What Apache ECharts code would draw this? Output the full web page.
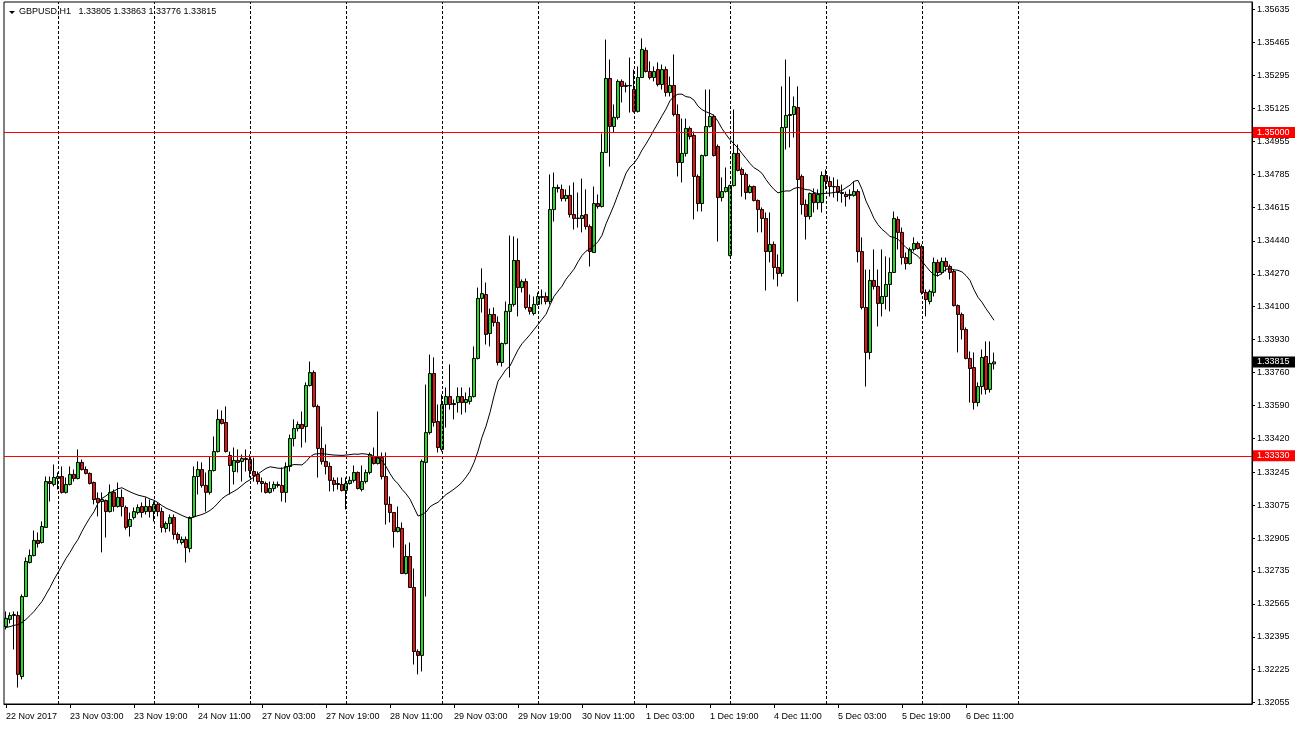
<!DOCTYPE html>
<html>
<head>
<meta charset="utf-8">
<script src="https://cdn.jsdelivr.net/npm/echarts/dist/echarts.min.js"></script>
<style>
html,body{margin:0;padding:0;background:#fff;}
#chart{width:1295px;height:729px;}
</style>
</head>
<body>
<div id="chart"></div>
<script>
// ---------- data ----------
const headerText = 'GBPUSD,H1   1.33805 1.33863 1.33776 1.33815';

const tickLabels = ['22 Nov 2017','23 Nov 03:00','23 Nov 19:00','24 Nov 11:00','27 Nov 03:00','27 Nov 19:00',
  '28 Nov 11:00','29 Nov 03:00','29 Nov 19:00','30 Nov 11:00','1 Dec 03:00','1 Dec 19:00','4 Dec 11:00',
  '5 Dec 03:00','5 Dec 19:00','6 Dec 11:00'];
const tickLabelBars = [0,16,32,48,64,80,96,112,128,144,160,176,192,208,224,240];
const dayStartBars = [13,37,61,85,109,133,157,181,205,229,253];
const slotCount = 312;

const priceTicks = [1.35635,1.35465,1.35295,1.35125,1.34955,1.34785,1.34615,1.34440,1.34270,1.34100,1.33930,
  1.33760,1.33590,1.33420,1.33245,1.33075,1.32905,1.32735,1.32565,1.32395,1.32225,1.32055];
const priceMin = 1.3204804;
const priceMax = 1.3567407;
const levelLines = [1.35000, 1.33330];
const lastPrice = 1.33815;

const maPeriod = 20;
// moving average as drawn for the first bars (its earlier history is outside the picture)
const maHead = [1.32443,1.32448,1.32454,1.32459,1.32469,1.32485,1.32505,1.32526,1.32552,1.32578,
  1.32614,1.32650,1.32691,1.32727,1.32763,1.32800,1.32831,1.32867,1.32898];

const open = [
1.32448,1.32485,1.32505,1.32505,1.32190,1.32603,1.32779,1.32815,1.32893,1.32882,
1.32960,1.33197,1.33182,1.33213,1.33223,1.33141,1.33182,1.33234,1.33213,1.33296,
1.33259,1.33239,1.33192,1.33110,1.33094,1.33099,1.33042,1.33141,1.33068,1.33115,
1.33063,1.32965,1.33011,1.33037,1.33068,1.33042,1.33068,1.33042,1.33079,1.33042,
1.32955,1.32980,1.33011,1.32924,1.32882,1.32898,1.32851,1.33017,1.33223,1.33259,
1.33177,1.33141,1.33254,1.33352,1.33518,1.33502,1.33332,1.33249,1.33306,1.33301,
1.33316,1.33311,1.33249,1.33234,1.33197,1.33187,1.33141,1.33161,1.33182,1.33177,
1.33141,1.33275,1.33419,1.33471,1.33492,1.33481,1.33693,1.33760,1.33585,1.33368,
1.33301,1.33275,1.33203,1.33187,1.33182,1.33151,1.33187,1.33203,1.33244,1.33156,
1.33197,1.33244,1.33326,1.33290,1.33321,1.33223,1.33079,1.33037,1.32939,1.32955,
1.32722,1.32810,1.32650,1.32319,1.32299,1.33296,1.33450,1.33755,1.33507,1.33363,
1.33595,1.33636,1.33600,1.33605,1.33636,1.33605,1.33611,1.33636,1.33833,1.34143,
1.34163,1.33962,1.34060,1.34019,1.33812,1.33910,1.34076,1.34112,1.34339,1.34199,
1.34230,1.34096,1.34065,1.34112,1.34148,1.34153,1.34127,1.34602,1.34716,1.34706,
1.34659,1.34675,1.34576,1.34558,1.34556,1.34576,1.34514,1.34380,1.34633,1.34618,
1.34897,1.35279,1.35031,1.35078,1.35264,1.35243,1.35243,1.35222,1.35109,1.35284,
1.35424,1.35315,1.35284,1.35325,1.35248,1.35325,1.35207,1.35243,1.35093,1.34845,
1.34892,1.35021,1.34985,1.34773,1.34633,1.34881,1.35031,1.35083,1.34928,1.34664,
1.34695,1.34365,1.34726,1.34892,1.34809,1.34783,1.34690,1.34721,1.34649,1.34602,
1.34556,1.34385,1.34422,1.34303,1.34272,1.35026,1.35088,1.35093,1.35129,1.34773,
1.34628,1.34566,1.34685,1.34638,1.34638,1.34778,1.34747,1.34721,1.34721,1.34690,
1.34680,1.34675,1.34675,1.34695,1.34385,1.34096,1.33864,1.34236,1.34205,1.34117,
1.34153,1.34215,1.34277,1.34551,1.34484,1.34354,1.34323,1.34396,1.34427,1.34411,
1.34174,1.34127,1.34174,1.34329,1.34277,1.34334,1.34308,1.34282,1.34106,1.34060,
1.33982,1.33833,1.33786,1.33605,1.33688,1.33843,1.33673,1.33805];

const close = [
1.32490,1.32505,1.32510,1.32201,1.32603,1.32784,1.32815,1.32893,1.32877,1.32965,
1.33197,1.33187,1.33218,1.33223,1.33141,1.33182,1.33234,1.33213,1.33296,1.33259,
1.33239,1.33187,1.33104,1.33089,1.33104,1.33042,1.33141,1.33068,1.33115,1.33068,
1.32960,1.33001,1.33042,1.33063,1.33037,1.33068,1.33042,1.33079,1.33042,1.32960,
1.32980,1.33011,1.32924,1.32898,1.32898,1.32856,1.33011,1.33223,1.33259,1.33177,
1.33141,1.33254,1.33352,1.33518,1.33497,1.33352,1.33280,1.33306,1.33296,1.33316,
1.33311,1.33254,1.33228,1.33197,1.33187,1.33141,1.33161,1.33182,1.33177,1.33141,
1.33275,1.33419,1.33471,1.33492,1.33471,1.33693,1.33760,1.33585,1.33368,1.33301,
1.33275,1.33203,1.33182,1.33182,1.33151,1.33187,1.33203,1.33244,1.33161,1.33197,
1.33244,1.33337,1.33290,1.33321,1.33223,1.33079,1.33037,1.32939,1.32960,1.32722,
1.32810,1.32650,1.32319,1.32299,1.33301,1.33450,1.33755,1.33502,1.33373,1.33595,
1.33636,1.33595,1.33595,1.33636,1.33605,1.33621,1.33636,1.33833,1.34143,1.34168,
1.33957,1.34060,1.34019,1.33812,1.33910,1.34076,1.34112,1.34339,1.34199,1.34230,
1.34096,1.34076,1.34112,1.34153,1.34153,1.34127,1.34602,1.34716,1.34711,1.34659,
1.34675,1.34576,1.34556,1.34556,1.34571,1.34514,1.34385,1.34633,1.34618,1.34897,
1.35279,1.35031,1.35078,1.35264,1.35238,1.35238,1.35241,1.35109,1.35284,1.35429,
1.35315,1.35284,1.35315,1.35248,1.35325,1.35207,1.35243,1.35093,1.34845,1.34892,
1.35021,1.34979,1.34773,1.34633,1.34881,1.35031,1.35083,1.34881,1.34664,1.34695,
1.34716,1.34726,1.34892,1.34804,1.34783,1.34690,1.34721,1.34649,1.34602,1.34556,
1.34385,1.34422,1.34303,1.34272,1.35026,1.35088,1.35093,1.35134,1.34757,1.34628,
1.34566,1.34685,1.34638,1.34680,1.34778,1.34747,1.34721,1.34719,1.34690,1.34685,
1.34669,1.34680,1.34695,1.34385,1.34096,1.33864,1.34236,1.34205,1.34117,1.34153,
1.34215,1.34277,1.34556,1.34484,1.34354,1.34323,1.34396,1.34427,1.34401,1.34174,
1.34137,1.34179,1.34329,1.34277,1.34334,1.34308,1.34277,1.34106,1.34060,1.33982,
1.33833,1.33781,1.33605,1.33688,1.33838,1.33673,1.33807,1.33815];

const low = [
1.32433,1.32464,1.32330,1.32133,1.32175,1.32603,1.32774,1.32810,1.32856,1.32877,
1.32960,1.33094,1.33172,1.33156,1.33135,1.33135,1.33177,1.33197,1.33208,1.33254,
1.33234,1.33182,1.33079,1.33017,1.32831,1.32908,1.33037,1.33042,1.33063,1.33017,
1.32949,1.32913,1.33001,1.33027,1.33011,1.33027,1.33011,1.32991,1.33017,1.32934,
1.32934,1.32939,1.32898,1.32877,1.32872,1.32779,1.32831,1.33011,1.33130,1.33166,
1.33042,1.33130,1.33249,1.33347,1.33492,1.33347,1.33130,1.33182,1.33244,1.33197,
1.33249,1.33218,1.33197,1.33182,1.33141,1.33135,1.33135,1.33146,1.33166,1.33094,
1.33089,1.33249,1.33378,1.33456,1.33373,1.33399,1.33688,1.33580,1.33218,1.33285,
1.33234,1.33146,1.33146,1.33156,1.33146,1.33053,1.33182,1.33192,1.33156,1.33146,
1.33187,1.33234,1.33285,1.33285,1.33208,1.32975,1.32986,1.32856,1.32934,1.32722,
1.32717,1.32650,1.32252,1.32201,1.32216,1.32603,1.33440,1.33481,1.33347,1.33352,
1.33476,1.33569,1.33518,1.33554,1.33543,1.33554,1.33595,1.33631,1.33828,1.34070,
1.33905,1.33895,1.33998,1.33797,1.33791,1.33905,1.33735,1.34101,1.34050,1.34174,
1.34086,1.34060,1.34055,1.34106,1.34112,1.34112,1.34112,1.34540,1.34690,1.34644,
1.34644,1.34561,1.34499,1.34509,1.34484,1.34499,1.34308,1.34380,1.34607,1.34613,
1.34897,1.34824,1.35000,1.35067,1.35155,1.35207,1.35103,1.35103,1.35103,1.35284,
1.35310,1.35274,1.35264,1.35238,1.35222,1.35186,1.35186,1.35083,1.34773,1.34742,
1.34876,1.34964,1.34551,1.34592,1.34592,1.34876,1.35026,1.34876,1.34437,1.34644,
1.34690,1.34360,1.34721,1.34799,1.34669,1.34654,1.34685,1.34644,1.34484,1.34484,
1.34184,1.34329,1.34241,1.34205,1.34256,1.34912,1.34923,1.34974,1.34127,1.34576,
1.34447,1.34551,1.34587,1.34602,1.34587,1.34706,1.34669,1.34664,1.34644,1.34638,
1.34618,1.34654,1.34669,1.34329,1.34086,1.33688,1.33828,1.34189,1.33998,1.34050,
1.34086,1.34076,1.34277,1.34396,1.34318,1.34292,1.34318,1.34385,1.34396,1.34163,
1.34050,1.34112,1.34153,1.34256,1.34267,1.34282,1.34241,1.34101,1.33864,1.33931,
1.33828,1.33605,1.33569,1.33585,1.33647,1.33647,1.33657,1.33776];

const high = [
1.32526,1.32521,1.32526,1.32526,1.32614,1.32805,1.32846,1.32944,1.32934,1.32991,
1.33223,1.33223,1.33285,1.33244,1.33275,1.33218,1.33275,1.33259,1.33363,1.33311,
1.33275,1.33244,1.33197,1.33141,1.33141,1.33104,1.33182,1.33156,1.33192,1.33156,
1.33073,1.33037,1.33063,1.33079,1.33089,1.33115,1.33104,1.33094,1.33089,1.33063,
1.32991,1.33027,1.33027,1.32934,1.32913,1.32913,1.33017,1.33275,1.33301,1.33296,
1.33244,1.33326,1.33430,1.33569,1.33564,1.33585,1.33352,1.33373,1.33363,1.33337,
1.33363,1.33337,1.33321,1.33249,1.33218,1.33197,1.33197,1.33197,1.33197,1.33270,
1.33296,1.33440,1.33518,1.33507,1.33559,1.33709,1.33817,1.33771,1.33595,1.33481,
1.33389,1.33296,1.33218,1.33218,1.33218,1.33218,1.33223,1.33280,1.33249,1.33280,
1.33259,1.33347,1.33373,1.33559,1.33347,1.33347,1.33120,1.33037,1.33068,1.32986,
1.32872,1.32882,1.32748,1.32330,1.33311,1.33698,1.33853,1.33838,1.33595,1.33647,
1.33683,1.33802,1.33621,1.33683,1.33683,1.33657,1.33683,1.33895,1.34199,1.34298,
1.34225,1.34091,1.34096,1.34050,1.33915,1.34127,1.34468,1.34463,1.34453,1.34241,
1.34246,1.34163,1.34153,1.34174,1.34189,1.34174,1.34783,1.34793,1.34731,1.34731,
1.34706,1.34726,1.34742,1.34690,1.34762,1.34706,1.34525,1.34721,1.34680,1.34995,
1.35480,1.35377,1.35145,1.35274,1.35274,1.35258,1.35387,1.35325,1.35341,1.35486,
1.35439,1.35367,1.35341,1.35362,1.35351,1.35341,1.35289,1.35403,1.35145,1.35072,
1.35072,1.35031,1.35005,1.34783,1.34886,1.35222,1.35222,1.35093,1.34938,1.34768,
1.34819,1.34731,1.35119,1.34938,1.34819,1.34793,1.34731,1.34726,1.34654,1.34613,
1.34587,1.34587,1.34437,1.34370,1.35238,1.35377,1.35289,1.35186,1.35238,1.34783,
1.34654,1.34690,1.34711,1.34706,1.34799,1.34809,1.34773,1.34768,1.34757,1.34731,
1.34695,1.34706,1.34747,1.34706,1.34458,1.34292,1.34292,1.34396,1.34292,1.34396,
1.34360,1.34354,1.34592,1.34566,1.34509,1.34380,1.34406,1.34458,1.34437,1.34422,
1.34189,1.34189,1.34354,1.34344,1.34354,1.34354,1.34318,1.34292,1.34112,1.34070,
1.33993,1.33869,1.33864,1.33709,1.33879,1.33921,1.33921,1.33863];

// ---------- build ----------
const FONT = '"Liberation Sans", Arial, sans-serif';
const categories = Array.from({length: slotCount}, (_, i) => String(i));
const candles = open.map((o, i) => [o, close[i], low[i], high[i]]);
const ma = close.map((c, i) => {
  if (i < maPeriod - 1) return maHead[i];
  let s = 0;
  for (let k = i - maPeriod + 1; k <= i; k++) s += close[k];
  return +(s / maPeriod).toFixed(5);
});
const labelSet = new Set(tickLabelBars);
const priceLabel = (bg) => ({
  show: true, position: 'end', distance: 1,
  formatter: (p) => Number(p.value).toFixed(5),
  color: '#fff', backgroundColor: bg, padding: [1, 7, 0, 4],
  fontSize: 9, lineHeight: 10, fontFamily: FONT
});
const levelSeries = (value, lineColor, boxColor, name) => ({
  name, type: 'line', data: [], z: 4, silent: true,
  markLine: {
    silent: true, symbol: ['none', 'none'], animation: false, precision: 5,
    emphasis: {disabled: true},
    data: [{
      yAxis: value,
      lineStyle: {color: lineColor, width: 1, type: 'solid', opacity: 1},
      label: priceLabel(boxColor)
    }]
  }
});

const chart = echarts.init(document.getElementById('chart'), null, {renderer: 'canvas'});
chart.setOption({
  animation: false,
  backgroundColor: '#ffffff',
  title: {
    text: headerText, left: 19, top: 7, padding: 0,
    textStyle: {fontSize: 9, fontWeight: 'normal', color: '#000', fontFamily: FONT}
  },
  graphic: [{
    type: 'polygon', silent: true,
    shape: {points: [[9, 11], [15, 11], [12, 14]]},
    style: {fill: '#000'}
  }],
  grid: {left: 4, top: 2, width: 1248, height: 702, show: true, borderColor: '#000', borderWidth: 1, backgroundColor: '#fff'},
  xAxis: {
    type: 'category', data: categories, boundaryGap: true,
    axisLine: {show: true, lineStyle: {color: '#000', width: 1}},
    axisTick: {show: true, alignWithLabel: true, length: 4, interval: (i) => labelSet.has(i), lineStyle: {color: '#000'}},
    axisLabel: {
      show: true, interval: (i) => labelSet.has(i), align: 'left', margin: 8,
      formatter: (v, i) => tickLabels[tickLabelBars.indexOf(i)] || '',
      color: '#000', fontSize: 9, fontFamily: FONT
    },
    splitLine: {show: false}
  },
  yAxis: {
    type: 'value', position: 'right', min: priceMin, max: priceMax, scale: true,
    axisLine: {show: true, lineStyle: {color: '#000', width: 1}},
    axisTick: {show: true, customValues: priceTicks, length: 3, lineStyle: {color: '#000'}},
    axisLabel: {
      show: true, customValues: priceTicks, margin: 5,
      formatter: (v) => v.toFixed(5), color: '#000', fontSize: 9, fontFamily: FONT
    },
    splitLine: {show: false}
  },
  series: [
    {
      name: 'daygrid', type: 'line', data: [], z: 1, silent: true,
      markLine: {
        silent: true, symbol: ['none', 'none'], animation: false,
        label: {show: false},
        lineStyle: {color: '#000', width: 1, type: [3, 2], opacity: 1},
        emphasis: {disabled: true},
        data: dayStartBars.map(b => ({xAxis: b}))
      }
    },
    {
      name: 'GBPUSD', type: 'candlestick', data: candles, barWidth: 3, z: 2,
      itemStyle: {color: '#22dd22', color0: '#ee1111', borderColor: '#000', borderColor0: '#000', borderWidth: 1},
      emphasis: {disabled: true}
    },
    {
      name: 'MA', type: 'line', data: ma, showSymbol: false, symbol: 'none', z: 3, silent: true,
      lineStyle: {color: '#000', width: 1}, emphasis: {disabled: true}
    },
    levelSeries(levelLines[0], '#ff0000', '#ff0000', 'level1'),
    levelSeries(levelLines[1], '#ff0000', '#ff0000', 'level2'),
    levelSeries(lastPrice, 'rgba(0,0,0,0)', '#000000', 'last')
  ]
});
</script>
</body>
</html>
